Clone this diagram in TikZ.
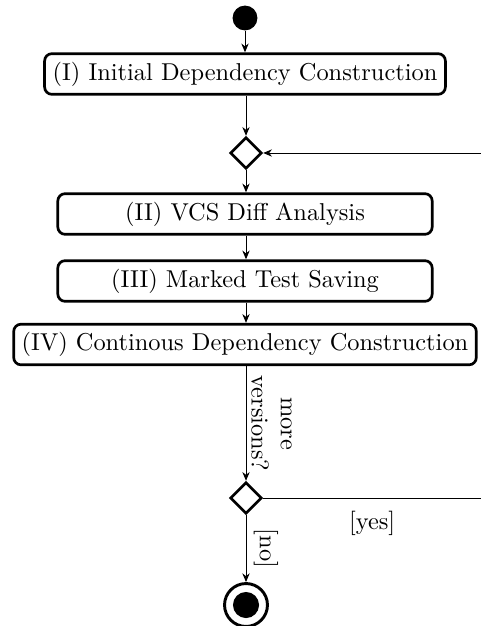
\documentclass[tikz,border=0pt]{standalone}
\usetikzlibrary{shapes.geometric,arrows.meta}
\begin{document}
\begin{tikzpicture}[x=0.41pt,y=-0.41pt,
  actbox/.style={draw,line width=1.1pt,rounded corners=3pt,minimum height=15.5pt,inner xsep=3.3pt},
  decision/.style={draw,diamond,line width=1.1pt,minimum width=13pt,minimum height=13pt,inner sep=0pt},
  flow/.style={line width=0.4pt,-{Stealth[length=3.6pt,width=3pt]}},
  plainline/.style={line width=0.4pt},
  vlabel/.style={rotate=-90,anchor=south,align=center,inner sep=2pt}]
\useasboundingbox (0,0) rectangle (481,626);
\node[circle,fill=black,minimum size=10.2pt,inner sep=0pt] (start) at (245,18) {};
\node[actbox] (b1) at (245,74) {(I) Initial Dependency Construction};
\node[decision] (d1) at (246,153) {};
\node[actbox,minimum width=153.5pt] (b2) at (245,214) {(II) VCS Diff Analysis};
\node[actbox,minimum width=153.5pt] (b3) at (245,281) {(III) Marked Test Saving};
\node[actbox] (b4) at (245,344.5) {(IV) Continous Dependency Construction};
\node[decision] (d2) at (246,498) {};
\node[circle,draw,line width=1.2pt,minimum size=17.6pt,inner sep=0pt] (end) at (246,605) {};
\node[circle,fill=black,minimum size=10.7pt,inner sep=0pt] (endin) at (end.center) {};
\coordinate (loopin) at (481,153);
\coordinate (loopout) at (481,498);
\draw[flow] (start) -- (b1);
\draw[flow] (b1.south -| d1) -- (d1);
\draw[flow] (loopin) -- (d1);
\draw[flow] (d1) -- (b2.north -| d1);
\draw[flow] (b2.south -| d1) -- (b3.north -| d1);
\draw[flow] (b3.south -| d1) -- (b4.north -| d1);
\draw[flow] (b4.south -| d2) -- node[vlabel,midway] {more\\versions?} (d2);
\draw[plainline] (d2) -- node[midway,below=2pt] {[yes]} (loopout);
\draw[flow] (d2) -- node[vlabel,midway,inner sep=3pt] {[no]} (end);
\end{tikzpicture}
\end{document}
